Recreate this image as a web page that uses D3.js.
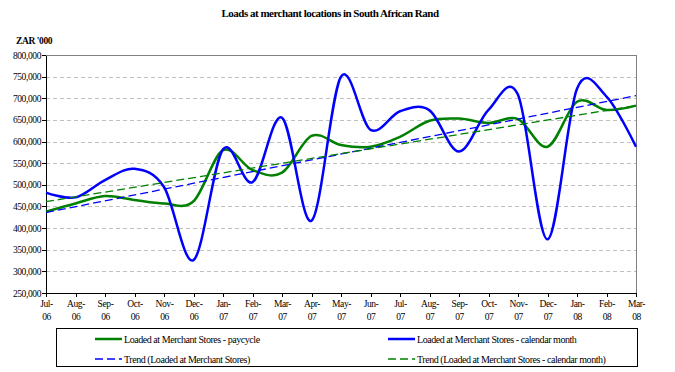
<!DOCTYPE html>
<html>
<head>
<meta charset="utf-8">
<title>Loads at merchant locations</title>
<script src="https://d3js.org/d3.v7.min.js"></script>
<style>
  body { margin: 0; background: #fff; }
  svg { display: block; font-family: "Liberation Serif", "Times New Roman", serif; }
  .axis { font-family: "Liberation Serif", "Times New Roman", serif; }
  .axis text { font-size: 9.5px; letter-spacing: -0.4px; fill: #000; }
  .axis path, .axis line { stroke: #000; shape-rendering: crispEdges; }
  .grid line { stroke: #c0c0c0; stroke-dasharray: 4,3; shape-rendering: crispEdges; }
  .legend text { font-size: 10px; letter-spacing: -0.45px; }
</style>
</head>
<body>
<script>
// ---- data ----
var months = ["Jul-06","Aug-06","Sep-06","Oct-06","Nov-06","Dec-06","Jan-07","Feb-07","Mar-07","Apr-07",
  "May-07","Jun-07","Jul-07","Aug-07","Sep-07","Oct-07","Nov-07","Dec-07","Jan-08","Feb-08","Mar-08"];

var paycycle = [438000,457000,474000,465000,457000,462000,580000,534000,528000,613000,
  592000,588000,611000,648000,653000,643000,652000,588000,692000,673000,683000];

var calendarMonth = [482000,471000,511000,537000,495000,326000,582000,506000,655000,417000,
  750000,627000,670000,672000,577000,673000,708000,374000,722000,704000,588000];

// trend line values at first and last month
var trendPaycycle = [436000, 706000];
var trendCalendar = [461000, 683000];

var yTicks = [250000,300000,350000,400000,450000,500000,550000,600000,650000,700000,750000,800000];

var W = 675, H = 372;
var plotLeft = 46, plotRight = 636, plotTop = 55, plotBottom = 293;

var svg = d3.select("body").append("svg").attr("width", W).attr("height", H);

var x = d3.scalePoint().domain(months).range([plotLeft, plotRight]);
var y = d3.scaleLinear().domain([250000, 800000]).range([plotBottom, plotTop]);

// title
svg.append("text").text("Loads at merchant locations in South African Rand")
  .attr("x", 330).attr("y", 17).attr("text-anchor", "middle")
  .style("font-size", "11px").style("font-weight", "bold").style("letter-spacing", "-0.5px");
svg.append("text").text("ZAR '000")
  .attr("x", 16).attr("y", 44)
  .style("font-size", "9.5px").style("font-weight", "bold").style("letter-spacing", "-0.4px");

// gridlines
svg.append("g").attr("class", "grid")
  .selectAll("line").data(yTicks.filter(function (d) { return d > 250000 && d < 800000; }))
  .enter().append("line")
  .attr("x1", plotLeft).attr("x2", plotRight)
  .attr("y1", function (d) { return Math.round(y(d)) + 0.5; })
  .attr("y2", function (d) { return Math.round(y(d)) + 0.5; });

// plot frame top/right
svg.append("path")
  .attr("d", "M" + plotLeft + "," + (plotTop + 0.5) + "H" + (plotRight + 0.5) + "V" + plotBottom)
  .attr("fill", "none").attr("stroke", "#808080").style("shape-rendering", "crispEdges");

// axes
svg.append("g").attr("class", "axis")
  .attr("transform", "translate(" + plotLeft + ",0)")
  .call(d3.axisLeft(y).tickValues(yTicks).tickSize(4).tickSizeOuter(0).tickFormat(d3.format(",")))
  .call(function (g) { g.selectAll("text").attr("x", -5); });

var xAxis = svg.append("g").attr("class", "axis")
  .attr("transform", "translate(0," + plotBottom + ")")
  .call(d3.axisBottom(x).tickSize(4).tickSizeOuter(0).tickFormat(""));

xAxis.selectAll(".tick").each(function (d) {
  var parts = d.split("-");
  var t = d3.select(this).append("text").attr("text-anchor", "middle").attr("fill", "#000");
  t.append("tspan").attr("x", 0).attr("y", 14).text(parts[0] + "-");
  t.append("tspan").attr("x", 0).attr("y", 27).text(parts[1]);
});

// lines
var smooth = d3.line()
  .x(function (d, i) { return x(months[i]); })
  .y(function (d) { return y(d); })
  .curve(d3.curveCatmullRom.alpha(0));

svg.append("path").datum(paycycle).attr("d", smooth)
  .attr("fill", "none").attr("stroke", "#008000").attr("stroke-width", 2.5);
svg.append("path").datum(calendarMonth).attr("d", smooth)
  .attr("fill", "none").attr("stroke", "#0000ff").attr("stroke-width", 2.5);

var straight = d3.line()
  .x(function (d, i) { return i === 0 ? x(months[0]) : x(months[months.length - 1]); })
  .y(function (d) { return y(d); });

svg.append("path").datum(trendPaycycle).attr("d", straight)
  .attr("fill", "none").attr("stroke", "#0000ff").attr("stroke-width", 1.3).attr("stroke-dasharray", "8,4");
svg.append("path").datum(trendCalendar).attr("d", straight)
  .attr("fill", "none").attr("stroke", "#008000").attr("stroke-width", 1.3).attr("stroke-dasharray", "8,4");

// legend
var legend = svg.append("g").attr("class", "legend");
legend.append("rect").attr("x", 56.5).attr("y", 328.5).attr("width", 581).attr("height", 38)
  .attr("fill", "#fff").attr("stroke", "#000");

var legendItems = [
  { label: "Loaded at Merchant Stores - paycycle", color: "#008000", dash: null, w: 2.5, lx: 95, ly: 339 },
  { label: "Loaded at Merchant Stores - calendar month", color: "#0000ff", dash: null, w: 2.5, lx: 388, ly: 339 },
  { label: "Trend (Loaded at Merchant Stores)", color: "#0000ff", dash: "8,4", w: 1.3, lx: 95, ly: 359 },
  { label: "Trend (Loaded at Merchant Stores - calendar month)", color: "#008000", dash: "8,4", w: 1.3, lx: 388, ly: 359 }
];

var li = legend.selectAll("g.item").data(legendItems).enter().append("g").attr("class", "item");
li.append("line")
  .attr("x1", function (d) { return d.lx; }).attr("x2", function (d) { return d.lx + 27; })
  .attr("y1", function (d) { return d.ly; }).attr("y2", function (d) { return d.ly; })
  .attr("stroke", function (d) { return d.color; })
  .attr("stroke-width", function (d) { return d.w; })
  .attr("stroke-dasharray", function (d) { return d.dash; });
li.append("text").text(function (d) { return d.label; })
  .attr("x", function (d) { return d.lx + 29; })
  .attr("y", function (d) { return d.ly + 3.5; });
</script>
</body>
</html>
